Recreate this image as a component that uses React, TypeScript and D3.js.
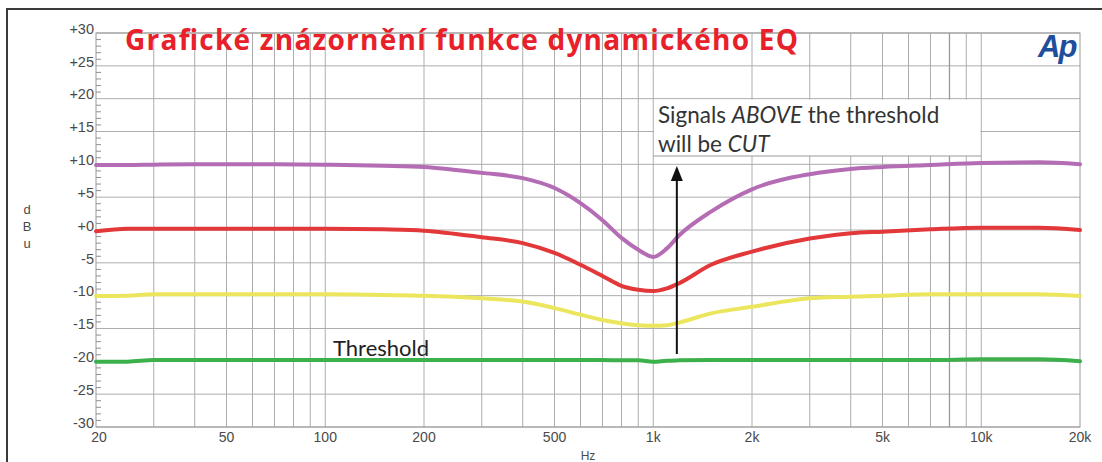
import React from 'react';
import * as d3 from 'd3';

// ---- data ----
const freqs = [20, 25, 30, 40, 50, 70, 100, 150, 200, 300, 400, 500, 600, 700, 800, 900, 1000, 1100, 1200, 1500, 2000, 3000, 4000, 5000, 7000, 10000, 15000, 20000];
const purpleLevel = [9.9, 9.9, 9.95, 10, 10, 10, 9.95, 9.8, 9.6, 8.7, 7.9, 6.4, 4.1, 1.5, -1.2, -3.0, -4.1, -2.8, -0.8, 2.8, 6.2, 8.5, 9.3, 9.6, 9.9, 10.2, 10.3, 10.0];
const redLevel = [-0.2, 0.2, 0.2, 0.2, 0.2, 0.2, 0.2, 0.1, -0.1, -1.1, -2.0, -3.5, -5.3, -7.0, -8.5, -9.1, -9.3, -8.9, -8.1, -5.3, -3.3, -1.3, -0.5, -0.25, 0.1, 0.35, 0.35, 0.0];
const yellowLevel = [-10.05, -10.0, -9.8, -9.8, -9.8, -9.8, -9.8, -9.9, -10.0, -10.4, -10.9, -11.9, -12.9, -13.7, -14.2, -14.5, -14.6, -14.5, -14.1, -12.7, -11.7, -10.4, -10.15, -10.0, -9.8, -9.8, -9.8, -10.05];
const greenLevel = [-20.05, -20.05, -19.8, -19.8, -19.8, -19.8, -19.8, -19.8, -19.8, -19.8, -19.8, -19.8, -19.8, -19.8, -19.85, -19.85, -20.05, -19.9, -19.85, -19.8, -19.8, -19.8, -19.8, -19.8, -19.8, -19.7, -19.7, -20.0];

const xTickValues = [20, 50, 100, 200, 500, 1000, 2000, 5000, 10000, 20000];
const xTickLabels = ['20', '50', '100', '200', '500', '1k', '2k', '5k', '10k', '20k'];
const yTickValues = [30, 25, 20, 15, 10, 5, 0, -5, -10, -15, -20, -25, -30];
const yTickLabels = ['+30', '+25', '+20', '+15', '+10', '+5', '+0', '-5', '-10', '-15', '-20', '-25', '-30'];

const titleText = 'Grafické znázornění funkce dynamického EQ';
const annotationLine1 = ['Signals ', 'ABOVE', ' the threshold'];
const annotationLine2 = ['will be ', 'CUT'];
const thresholdLabel = 'Threshold';

const seriesList = [
  { name: 'purple', values: purpleLevel, color: '#b46db4' },
  { name: 'red', values: redLevel, color: '#e2383a' },
  { name: 'yellow', values: yellowLevel, color: '#ebe65e' },
  { name: 'green', values: greenLevel, color: '#3cb04a' },
];

const W = 1102;
const H = 462;
const plot = { left: 96, right: 1080, top: 33, bottom: 427 };

export default function App() {
  const x = d3.scaleLog().domain([20, 20000]).range([plot.left, plot.right]);
  const y = d3.scaleLinear().domain([-30, 30]).range([plot.bottom, plot.top]);

  const gridFreqs: number[] = [];
  for (const dec of [10, 100, 1000, 10000]) {
    for (let m = 1; m <= 9; m++) {
      const f = dec * m;
      if (f > 20 && f < 20000) gridFreqs.push(f);
    }
  }
  const minorDb = d3.range(-30, 31, 1).filter((v) => v % 5 !== 0);

  const line = d3
    .line<[number, number]>()
    .x((d) => x(d[0]))
    .y((d) => y(d[1]))
    .curve(d3.curveMonotoneX);

  const fontAxis = '"Liberation Sans", Arial, sans-serif';
  const fontText = 'Lato, "Open Sans", sans-serif';

  const boxX0 = x(1000) + 1;
  const boxX1 = x(10000) - 1;
  const boxY0 = y(20) + 1;
  const boxY1 = 156;
  const arrowX = x(1180);

  return (
    <svg width={W} height={H} style={{ position: 'absolute', left: 0, top: 0, background: '#fff' }}>
      <rect x={0} y={0} width={W} height={H} fill="#fff" />
      {/* outer frame */}
      <rect x={7} y={9} width={W + 20} height={H + 20} fill="none" stroke="#3a3a3a" strokeWidth={2} />

      {/* horizontal grid */}
      {yTickValues.map((v) => (
        <line key={'hg' + v} x1={plot.left} x2={plot.right} y1={y(v)} y2={y(v)} stroke="#adadad" strokeWidth={1} />
      ))}
      {/* vertical grid */}
      {gridFreqs.map((f) => (
        <line key={'vg' + f} x1={x(f)} x2={x(f)} y1={plot.top} y2={plot.bottom} stroke={f === 8000 ? '#9a9a9a' : '#adadad'} strokeWidth={f === 8000 ? 1.3 : 1} />
      ))}
      {/* plot border */}
      <rect x={plot.left} y={plot.top} width={plot.right - plot.left} height={plot.bottom - plot.top} fill="none" stroke="#9a9a9a" strokeWidth={1} />
      {/* minor y ticks */}
      {minorDb.map((v) => (
        <line key={'mt' + v} x1={plot.left} x2={plot.left + 5} y1={y(v)} y2={y(v)} stroke="#8f8f8f" strokeWidth={1} />
      ))}

      {/* y tick labels */}
      {yTickValues.map((v, i) => (
        <text key={'yl' + v} x={plot.left - 2} y={y(v) - 3} textAnchor="end" dominantBaseline="middle" fontFamily={fontAxis} fontSize={14.5} fill="#4a4a4a">
          {yTickLabels[i]}
        </text>
      ))}
      {/* x tick labels */}
      {xTickValues.map((v, i) => (
        <text key={'xl' + v} x={x(v) + (i === 0 ? 3 : 0)} y={438} textAnchor="middle" dominantBaseline="middle" fontFamily={fontAxis} fontSize={14} fill="#4a4a4a">
          {xTickLabels[i]}
        </text>
      ))}
      <text x={588} y={460} textAnchor="middle" fontFamily={fontAxis} fontSize={12} fill="#4a4a4a">Hz</text>
      {/* dBu vertical label */}
      {['d', 'B', 'u'].map((c, i) => (
        <text key={'u' + c} x={27} y={211 + i * 17} textAnchor="middle" dominantBaseline="middle" fontFamily={fontAxis} fontSize={13} fill="#4a4a4a">
          {c}
        </text>
      ))}

      {/* annotation box */}
      <rect x={boxX0} y={boxY0} width={boxX1 - boxX0} height={boxY1 - boxY0} fill="#fff" />
      <line x1={boxX0 - 1} x2={boxX1 + 1} y1={boxY1} y2={boxY1} stroke="#9a9a9a" strokeWidth={1} />

      {/* series */}
      {seriesList.map((s) => (
        <path
          key={s.name}
          d={line(freqs.map((f, i) => [f, s.values[i]] as [number, number])) || ''}
          fill="none"
          stroke={s.color}
          strokeWidth={4}
          strokeLinejoin="round"
          strokeLinecap="round"
        />
      ))}

      {/* arrow */}
      <line x1={arrowX} x2={arrowX} y1={354} y2={176} stroke="#111" strokeWidth={2} />
      <path d={`M${arrowX},166 L${arrowX - 6},181 L${arrowX + 6},181 Z`} fill="#111" />

      {/* annotation text */}
      <text x={658} y={123} fontFamily={fontText} fontSize={22.5} fill="#333">
        <tspan>{annotationLine1[0]}</tspan>
        <tspan fontStyle="italic">{annotationLine1[1]}</tspan>
        <tspan>{annotationLine1[2]}</tspan>
      </text>
      <text x={658} y={152} fontFamily={fontText} fontSize={22.5} fill="#333">
        <tspan>{annotationLine2[0]}</tspan>
        <tspan fontStyle="italic">{annotationLine2[1]}</tspan>
      </text>

      <text x={333} y={356} fontFamily={fontText} fontSize={22} fill="#222">{thresholdLabel}</text>

      {/* title */}
      <text x={125} y={50} fontFamily={'"Open Sans", Lato, sans-serif'} fontWeight={700} fontSize={28} fill="#e8202a" textLength={673} lengthAdjust="spacing">
        {titleText}
      </text>

      {/* Ap logo */}
      <text x={1038} y={57} fontFamily={fontAxis} fontWeight={700} fontStyle="italic" fontSize={31} fill="#1f4e9c" letterSpacing={-2}>
        Ap
      </text>
    </svg>
  );
}
